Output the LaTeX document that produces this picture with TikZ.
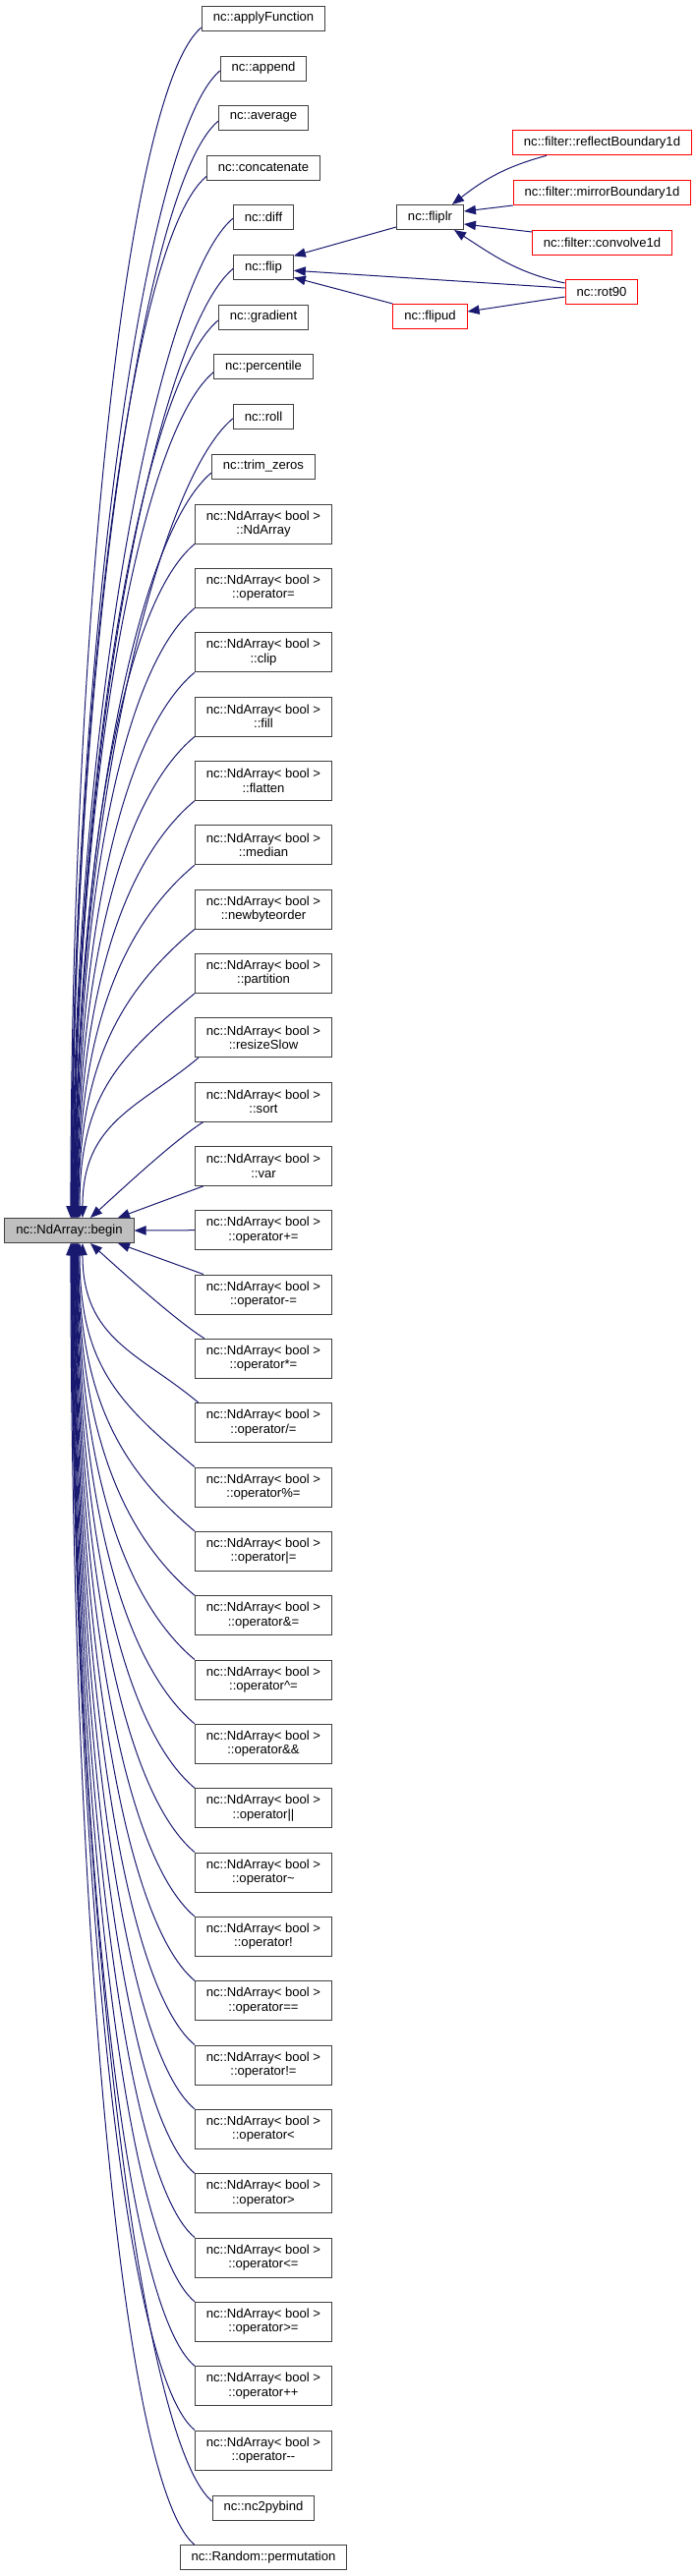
\documentclass[tikz,border=0pt]{standalone}
\usepackage{fontspec}
\setmainfont{Liberation Sans}
\usetikzlibrary{arrows.meta}

\definecolor{edgeblue}{rgb}{0.1,0.1,0.44}
\definecolor{rootgray}{rgb}{0.75,0.75,0.75}
\definecolor{boxline}{rgb}{0.25,0.25,0.25}

\begin{document}
\begin{tikzpicture}[x=0.75pt,y=0.75pt,
	font=\fontsize{9.8}{10.7}\selectfont,
	box/.style={draw=boxline,line width=0.75pt,fill=white,inner xsep=8.6pt,inner ysep=0pt,minimum height=18.75pt,align=center},
	twoline/.style={box,minimum height=30pt},
	cut/.style={box,draw=red},
	root/.style={box,fill=rootgray},
	edge/.style={edgeblue,line width=0.75pt,>={Triangle[length=9pt,width=7pt]},<-},
	upcurve/.style={out=90,in=220,out looseness=1.25,in looseness=1,in max distance=75pt},
	downcurve/.style={out=-90,in=140,out looseness=1.25,in looseness=1,in max distance=75pt}]

	\useasboundingbox (0,0) rectangle (708,-2621);

	\node[root] at (70.5,-1252) (1) {nc::NdArray::begin};

	\node[box] at (268,-18.5) (2) {nc::applyFunction};
	\node[box] at (268,-69.5) (3) {nc::append};
	\node[box] at (268,-119.8) (4) {nc::average};
	\node[box] at (268,-170.5) (5) {nc::concatenate};
	\node[box] at (268,-221.2) (6) {nc::diff};
	\node[box] at (268,-271.8) (7) {nc::flip};
	\node[box] at (268,-322.5) (8) {nc::gradient};
	\node[box] at (268,-373.3) (9) {nc::percentile};
	\node[box] at (268,-423.8) (10) {nc::roll};
	\node[box] at (268,-474.5) (11) {nc::trim\_zeros};

	\node[twoline] at (268,-533) (12) {nc::NdArray< bool >\\::NdArray};
	\node[twoline] at (268,-598.3) (13) {nc::NdArray< bool >\\::operator=};
	\node[twoline] at (268,-663.7) (14) {nc::NdArray< bool >\\::clip};
	\node[twoline] at (268,-729) (15) {nc::NdArray< bool >\\::fill};
	\node[twoline] at (268,-794.3) (16) {nc::NdArray< bool >\\::flatten};
	\node[twoline] at (268,-859.7) (17) {nc::NdArray< bool >\\::median};
	\node[twoline] at (268,-925) (18) {nc::NdArray< bool >\\::newbyteorder};
	\node[twoline] at (268,-990.3) (19) {nc::NdArray< bool >\\::partition};
	\node[twoline] at (268,-1055.7) (20) {nc::NdArray< bool >\\::resizeSlow};
	\node[twoline] at (268,-1121) (21) {nc::NdArray< bool >\\::sort};
	\node[twoline] at (268,-1186.3) (22) {nc::NdArray< bool >\\::var};
	\node[twoline] at (268,-1251.7) (23) {nc::NdArray< bool >\\::operator+=};
	\node[twoline] at (268,-1317) (24) {nc::NdArray< bool >\\::operator-=};
	\node[twoline] at (268,-1382.3) (25) {nc::NdArray< bool >\\::operator*=};
	\node[twoline] at (268,-1447.7) (26) {nc::NdArray< bool >\\::operator/=};
	\node[twoline] at (268,-1513) (27) {nc::NdArray< bool >\\::operator\%=};
	\node[twoline] at (268,-1578.3) (28) {nc::NdArray< bool >\\::operator|=};
	\node[twoline] at (268,-1643.7) (29) {nc::NdArray< bool >\\::operator\&=};
	\node[twoline] at (268,-1709) (30) {nc::NdArray< bool >\\::operator\textasciicircum=};
	\node[twoline] at (268,-1774.3) (31) {nc::NdArray< bool >\\::operator\&\&};
	\node[twoline] at (268,-1839.7) (32) {nc::NdArray< bool >\\::operator||};
	\node[twoline] at (268,-1905) (33) {nc::NdArray< bool >\\::operator\textasciitilde};
	\node[twoline] at (268,-1970.3) (34) {nc::NdArray< bool >\\::operator!};
	\node[twoline] at (268,-2035.7) (35) {nc::NdArray< bool >\\::operator==};
	\node[twoline] at (268,-2101) (36) {nc::NdArray< bool >\\::operator!=};
	\node[twoline] at (268,-2166.3) (37) {nc::NdArray< bool >\\::operator<};
	\node[twoline] at (268,-2231.7) (38) {nc::NdArray< bool >\\::operator>};
	\node[twoline] at (268,-2297) (39) {nc::NdArray< bool >\\::operator<=};
	\node[twoline] at (268,-2362.3) (40) {nc::NdArray< bool >\\::operator>=};
	\node[twoline] at (268,-2427.7) (41) {nc::NdArray< bool >\\::operator++};
	\node[twoline] at (268,-2493) (42) {nc::NdArray< bool >\\::operator-{}-};

	\node[box] at (268,-2551.5) (43) {nc::nc2pybind};
	\node[box] at (268,-2602) (44) {nc::Random::permutation};

	\node[box] at (437.5,-221) (45) {nc::fliplr};
	\node[cut] at (437.5,-322) (46) {nc::flipud};
	\node[cut] at (612.5,-145.3) (47) {nc::filter::reflectBoundary1d};
	\node[cut] at (612.5,-196) (48) {nc::filter::mirrorBoundary1d};
	\node[cut] at (612.5,-246.5) (49) {nc::filter::convolve1d};
	\node[cut] at (612,-297) (50) {nc::rot90};

	% callers above begin
	\draw[edge] ([xshift=1.1pt]1.north) to [upcurve] ([yshift=-7.1pt]2.west);
	\draw[edge] ([xshift=1.5pt]1.north) to [upcurve] ([yshift=-1.9pt]3.west);
	\draw[edge] ([xshift=1.9pt]1.north) to [upcurve] ([yshift=-2.6pt]4.west);
	\draw[edge] ([xshift=2.25pt]1.north) to [upcurve] ([yshift=-6.75pt]5.west);
	\draw[edge] ([xshift=2.6pt]1.north) to [upcurve] ([yshift=-0.75pt]6.west);
	\draw[edge] ([xshift=3pt]1.north) to [upcurve] ([yshift=-1.1pt]7.west);
	\draw[edge] ([xshift=3.4pt]1.north) to [upcurve] ([yshift=-2.6pt]8.west);
	\draw[edge] ([xshift=3.75pt]1.north) to [upcurve] ([yshift=-4.1pt]9.west);
	\draw[edge] ([xshift=4.1pt]1.north) to [upcurve] ([yshift=-1.5pt]10.west);
	\draw[edge] ([xshift=4.5pt]1.north) to [upcurve] ([yshift=-4.9pt]11.west);
	\draw[edge] ([xshift=4.9pt]1.north) to [upcurve] (12.south west);
	\draw[edge] ([xshift=5.25pt]1.north) to [upcurve] (13.south west);
	\draw[edge] ([xshift=5.6pt]1.north) to [upcurve] (14.south west);
	\draw[edge] ([xshift=6pt]1.north) to [upcurve] (15.south west);
	\draw[edge] ([xshift=6.4pt]1.north) to [upcurve] (16.south west);
	\draw[edge] ([xshift=6.75pt]1.north) to [upcurve] (17.south west);
	\draw[edge] ([xshift=7.1pt]1.north) to [upcurve] (18.south west);
	\draw[edge] ([xshift=7.9pt]1.north) to [upcurve] (19.south west);
	\draw[edge] ([xshift=10.1pt]1.north) to [upcurve] ([xshift=3pt]20.south west);
	\draw[edge] ([xshift=16.1pt]1.north) to [out=42,in=212,looseness=0.6] ([xshift=6.75pt]21.south west);
	\draw[edge] ([xshift=37.1pt]1.north) -- ([xshift=6.75pt]22.south west);

	\draw[edge] (1.east) -- (23.west);

	% callers below begin
	\draw[edge] ([xshift=37.1pt]1.south) -- ([xshift=6.75pt]24.north west);
	\draw[edge] ([xshift=16.1pt]1.south) to [out=-42,in=148,looseness=0.6] ([xshift=7.5pt]25.north west);
	\draw[edge] ([xshift=10.1pt]1.south) to [downcurve] ([xshift=3pt]26.north west);
	\draw[edge] ([xshift=7.9pt]1.south) to [downcurve] (27.north west);
	\draw[edge] ([xshift=7.1pt]1.south) to [downcurve] (28.north west);
	\draw[edge] ([xshift=6.75pt]1.south) to [downcurve] (29.north west);
	\draw[edge] ([xshift=6.4pt]1.south) to [downcurve] (30.north west);
	\draw[edge] ([xshift=6pt]1.south) to [downcurve] (31.north west);
	\draw[edge] ([xshift=5.6pt]1.south) to [downcurve] (32.north west);
	\draw[edge] ([xshift=5.25pt]1.south) to [downcurve] (33.north west);
	\draw[edge] ([xshift=4.9pt]1.south) to [downcurve] (34.north west);
	\draw[edge] ([xshift=4.5pt]1.south) to [downcurve] (35.north west);
	\draw[edge] ([xshift=4.1pt]1.south) to [downcurve] (36.north west);
	\draw[edge] ([xshift=3.75pt]1.south) to [downcurve] (37.north west);
	\draw[edge] ([xshift=3.4pt]1.south) to [downcurve] (38.north west);
	\draw[edge] ([xshift=3pt]1.south) to [downcurve] (39.north west);
	\draw[edge] ([xshift=2.6pt]1.south) to [downcurve] (40.north west);
	\draw[edge] ([xshift=2.25pt]1.south) to [downcurve] (41.north west);
	\draw[edge] ([xshift=1.9pt]1.south) to [downcurve] (42.north west);
	\draw[edge] ([xshift=1.5pt]1.south) to [downcurve] ([yshift=4.9pt]43.west);
	\draw[edge] ([xshift=1.1pt]1.south) to [downcurve] ([xshift=11.25pt]44.north west);

	% flip family
	\draw[edge] ([yshift=8.6pt]7.east) -- ([yshift=-7.5pt]45.west);
	\draw[edge] ([yshift=-2.6pt]7.east) -- ([yshift=3pt]50.west);
	\draw[edge] ([yshift=-7.9pt]7.east) -- (46.north west);
	\draw[edge] ([xshift=-9pt]45.north east) to [out=38,in=195] ([xshift=26.25pt]47.south west);
	\draw[edge] ([yshift=4.5pt]45.east) -- (48.south west);
	\draw[edge] ([yshift=-5.25pt]45.east) -- ([yshift=7.9pt]49.west);
	\draw[edge] ([xshift=-7.5pt]45.south east) to [out=-33,in=168] ([yshift=6.75pt]50.west);
	\draw[edge] ([yshift=3.75pt]46.east) -- ([yshift=-3.75pt]50.west);
\end{tikzpicture}
\end{document}
